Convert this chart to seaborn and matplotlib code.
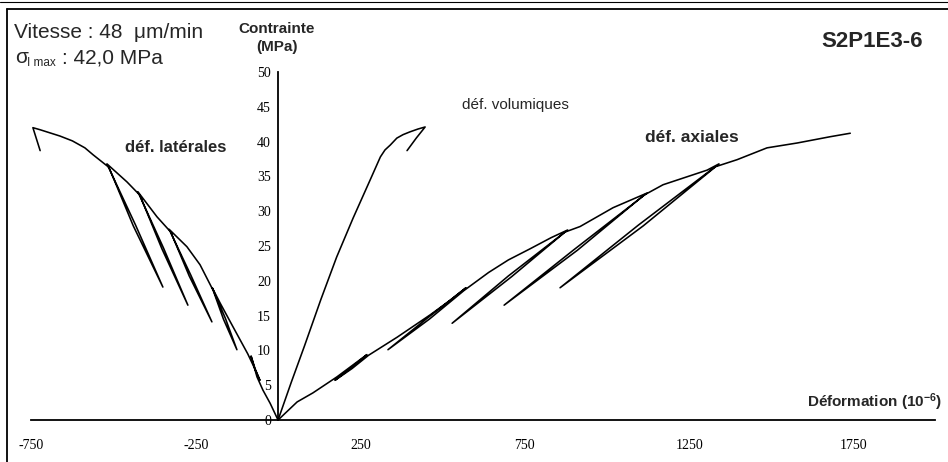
import matplotlib
matplotlib.use("Agg")
import matplotlib.pyplot as plt
import seaborn as sns
from matplotlib.lines import Line2D

sns.set_style("white")
plt.rcParams['font.family'] = ['Liberation Sans', 'DejaVu Sans']
plt.rcParams['mathtext.default'] = 'regular'

# ---------------- data (strain in 1e-6, stress in MPa) ----------------
ax_x = [0, 58, 106, 179, 270, 222, 173, 225, 275, 362, 462, 523, 571, 450, 334,
        460, 565, 640, 700, 766, 830, 880, 700, 529, 710, 872, 918, 1018, 1121,
        900, 687, 910, 1112, 1170, 1304, 1340, 1095, 857, 1110, 1330, 1395, 1486,
        1578, 1678, 1739]
ax_y = [0, 2.6, 3.9, 6.2, 9.4, 7.5, 5.7, 7.4, 9.3, 11.9, 15.1, 17.2, 19.0, 14.5, 10.1,
        14.5, 18.6, 21.2, 23.0, 24.6, 26.2, 27.3, 20.7, 13.9, 20.6, 27.0, 27.8, 30.5, 32.6,
        24.5, 16.5, 24.4, 32.3, 33.8, 35.9, 36.8, 28.0, 19.0, 27.9, 36.4, 37.4, 39.1,
        39.8, 40.7, 41.2]

lat_x = [0, -24, -46, -64, -82, -70, -55, -72, -92, -137, -176, -200, -160, -125,
         -166, -197, -237, -277, -331, -265, -201, -270, -326, -368, -426, -348, -274,
         -353, -420, -459, -520, -433, -350, -440, -514, -562, -587, -625, -663, -723,
         -745, -723]
lat_y = [0, 2.4, 4.3, 6.2, 9.2, 7.4, 5.7, 7.5, 9.5, 13.4, 16.8, 19.0, 14.6, 10.1,
         14.5, 18.6, 22.3, 24.9, 27.4, 20.8, 14.1, 20.7, 27.0, 29.2, 32.8, 24.7, 16.5,
         24.6, 32.3, 34.2, 36.8, 28.0, 19.1, 27.9, 36.3, 38.1, 39.1, 40.1, 40.8, 41.7,
         42.0, 38.7]

vol_x = [0, 40, 80, 130, 178, 228, 280, 311, 325, 341, 361, 380, 401, 425, 447, 420, 392]
vol_y = [0, 5.4, 10.6, 17.3, 23.4, 29.0, 34.5, 37.8, 38.8, 39.5, 40.5, 41.0, 41.4, 41.8,
         42.1, 40.5, 38.7]

x_ticks = [-750, -250, 250, 750, 1250, 1750]
y_ticks = [0, 5, 10, 15, 20, 25, 30, 35, 40, 45, 50]

# ---------------- figure ----------------
W, H = 948, 462
fig = plt.figure(figsize=(W / 100, H / 100), dpi=100)
ax = fig.add_axes([0, 0, 1, 1])
ax.set_facecolor('white')
ax.patch.set_alpha(0)

for xs, ys in [(lat_x, lat_y), (ax_x, ax_y), (vol_x, vol_y)]:
    sns.lineplot(x=xs, y=ys, sort=False, estimator=None, color='black',
                 linewidth=1.15, ax=ax)

ax.set_xlim(-845, 2036)
ax.set_ylim(-6.03, 60.34)

for s in ['top', 'right']:
    ax.spines[s].set_visible(False)
ax.spines['bottom'].set_position(('data', 0))
ax.spines['left'].set_position(('data', 0))
ax.spines['bottom'].set_bounds(-750, 1995)
ax.spines['left'].set_bounds(0, 50)
for s in ['bottom', 'left']:
    ax.spines[s].set_color('black')
    ax.spines[s].set_linewidth(1.3)

ax.set_xticks(x_ticks)
ax.set_xticklabels([str(v) for v in x_ticks])
ax.set_yticks(y_ticks)
ax.set_yticklabels([str(v) for v in y_ticks])
serif = ['Liberation Serif', 'DejaVu Serif']
ax.tick_params(axis='x', direction='inout', length=9, width=1.2, pad=9,
               labelsize=10, colors='black')
ax.tick_params(axis='y', direction='inout', length=6, width=1.2, pad=2,
               labelsize=10, colors='black')
for lab in ax.get_xticklabels() + ax.get_yticklabels():
    lab.set_family(serif)
ax.set_xlabel('')
ax.set_ylabel('')

def px(x, y):
    return x / W, 1 - y / H

# frame
fig.add_artist(Line2D([7 / W, 1], [1 - 9 / H, 1 - 9 / H], color='black', lw=1.3,
                      transform=fig.transFigure))
fig.add_artist(Line2D([0, 1], [1 - 1.5 / H, 1 - 1.5 / H], color='black', lw=0.8,
                      transform=fig.transFigure))
fig.add_artist(Line2D([7 / W, 7 / W], [0, 1 - 9 / H], color='black', lw=1.3,
                      transform=fig.transFigure))

# texts
fig.text(*px(14, 38), 'Vitesse : 48  μm/min', fontsize=15, va='baseline', ha='left')
fig.text(*px(15, 63), 'σ', fontsize=15, va='baseline', ha='left')
fig.text(*px(27, 66), 'I max', fontsize=8.5, va='baseline', ha='left')
fig.text(*px(62, 63), ': 42,0 MPa', fontsize=15, va='baseline', ha='left')

fig.text(*px(277, 29), 'Contrainte', fontsize=11, fontweight='bold', ha='center', va='center')
fig.text(*px(277, 47), '(MPa)', fontsize=11, fontweight='bold', ha='center', va='center')
fig.text(*px(923, 47), 'S2P1E3-6', fontsize=16, fontweight='bold', ha='right', va='baseline')

fig.text(*px(125, 147), 'déf. latérales', fontsize=12, fontweight='bold', ha='left', va='center')
fig.text(*px(462, 105), 'déf. volumiques', fontsize=11, ha='left', va='center')
fig.text(*px(645, 137), 'déf. axiales', fontsize=12.5, fontweight='bold', ha='left', va='center')
fig.text(*px(942, 407), 'Déformation (10$^{-6}$)', fontsize=11, fontweight='bold',
         ha='right', va='baseline')

fig.savefig('out.png', dpi=100, facecolor='white')
